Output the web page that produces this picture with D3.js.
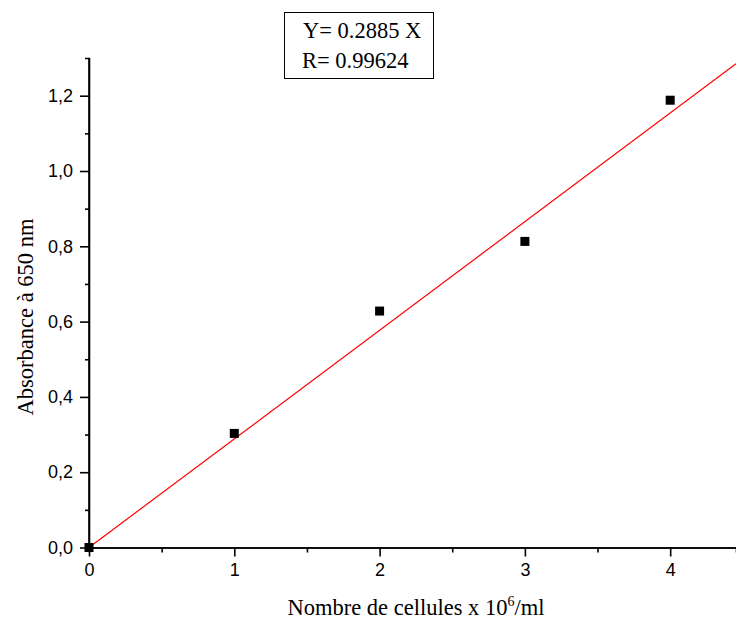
<!DOCTYPE html>
<html>
<head>
<meta charset="utf-8">
<script src="https://cdn.jsdelivr.net/npm/d3@7"></script>
<style>
body { margin: 0; background: #fff; }
svg { display: block; }
</style>
</head>
<body>
<svg width="736" height="626"></svg>
<script>
var cells = [0, 1, 2, 3, 4];
var absorbance = [0, 0.303, 0.628, 0.813, 1.188];
var slope = 0.2885;
var xMajor = [0, 1, 2, 3, 4];
var xMinor = [0.5, 1.5, 2.5, 3.5];
var yMajor = [0, 0.2, 0.4, 0.6, 0.8, 1.0, 1.2];
var yMinor = [0.1, 0.3, 0.5, 0.7, 0.9, 1.1];
var fitLines = ["Y= 0.2885 X", "R= 0.99624"];

var svg = d3.select("svg");
var x0 = 89, x1 = 736, y0 = 547.5, y1 = 58;
var x = d3.scaleLinear().domain([0, 4.453]).range([x0, x1]);
var y = d3.scaleLinear().domain([0, 1.3]).range([y0, y0 - 1.3 * 376.5]);
var fmt = function(d) { return d3.format(".1f")(d).replace(".", ","); };

function styleAxis(g) {
    g.attr("font-size", 18).attr("font-family", "Liberation Sans, Arial, sans-serif");
    g.selectAll("path").attr("stroke", "#000").attr("stroke-width", 1.6);
    g.selectAll("line").attr("stroke", "#000").attr("stroke-width", 1.6);
    g.selectAll("text").attr("fill", "#000");
}

// y axis
svg.append("g").attr("transform", "translate(" + x0 + ",0)")
   .call(d3.axisLeft(y).tickValues(yMinor).tickSize(4).tickFormat(""))
   .call(styleAxis);
svg.append("g").attr("transform", "translate(" + x0 + ",0)")
   .call(d3.axisLeft(y).tickValues(yMajor).tickSize(9).tickSizeOuter(0).tickPadding(7).tickFormat(fmt))
   .call(styleAxis)
   .call(function(g) { g.select(".domain").attr("d", "M0," + y1 + "V" + y0); });

// x axis
svg.append("g").attr("transform", "translate(0," + y0 + ")")
   .call(d3.axisBottom(x).tickValues(xMinor).tickSize(5).tickFormat(""))
   .call(styleAxis);
svg.append("g").attr("transform", "translate(0," + y0 + ")")
   .call(d3.axisBottom(x).tickValues(xMajor).tickSize(9).tickSizeOuter(0).tickPadding(7).tickFormat(d3.format("d")))
   .call(styleAxis);

// fit line
svg.append("line")
   .attr("x1", x(0)).attr("y1", y(0))
   .attr("x2", x(4.453)).attr("y2", y(slope * 4.453))
   .attr("stroke", "red").attr("stroke-width", 1.2);

// points
svg.append("g").selectAll("rect")
   .data(cells)
   .enter()
   .append("rect")
   .attr("x", function(d) { return x(d) - 4.5; })
   .attr("y", function(d, i) { return y(absorbance[i]) - 4.5; })
   .attr("width", 9).attr("height", 9)
   .attr("fill", "#000");

// axis titles
svg.append("text")
   .attr("transform", "translate(33,317) rotate(-90)")
   .attr("text-anchor", "middle")
   .attr("font-family", "Liberation Serif, Times New Roman, serif")
   .attr("font-size", 22.5)
   .text("Absorbance à 650 nm");

var xt = svg.append("text")
   .attr("x", 416).attr("y", 615)
   .attr("text-anchor", "middle")
   .attr("font-family", "Liberation Serif, Times New Roman, serif")
   .attr("font-size", 22.5);
xt.append("tspan").text("Nombre de cellules x 10");
xt.append("tspan").attr("dy", -9).attr("font-size", 14).text("6");
xt.append("tspan").attr("dy", 9).text("/ml");

// equation box
svg.append("rect")
   .attr("x", 284.5).attr("y", 12.5).attr("width", 149).attr("height", 66)
   .attr("fill", "#fff").attr("stroke", "#000").attr("stroke-width", 1);
svg.append("g").selectAll("text")
   .data(fitLines)
   .enter()
   .append("text")
   .attr("x", function(d, i) { return i === 0 ? 303 : 302; })
   .attr("y", function(d, i) { return 38 + i * 30; })
   .attr("font-family", "Liberation Serif, Times New Roman, serif")
   .attr("font-size", 22.5)
   .text(function(d) { return d; });
</script>
</body>
</html>
